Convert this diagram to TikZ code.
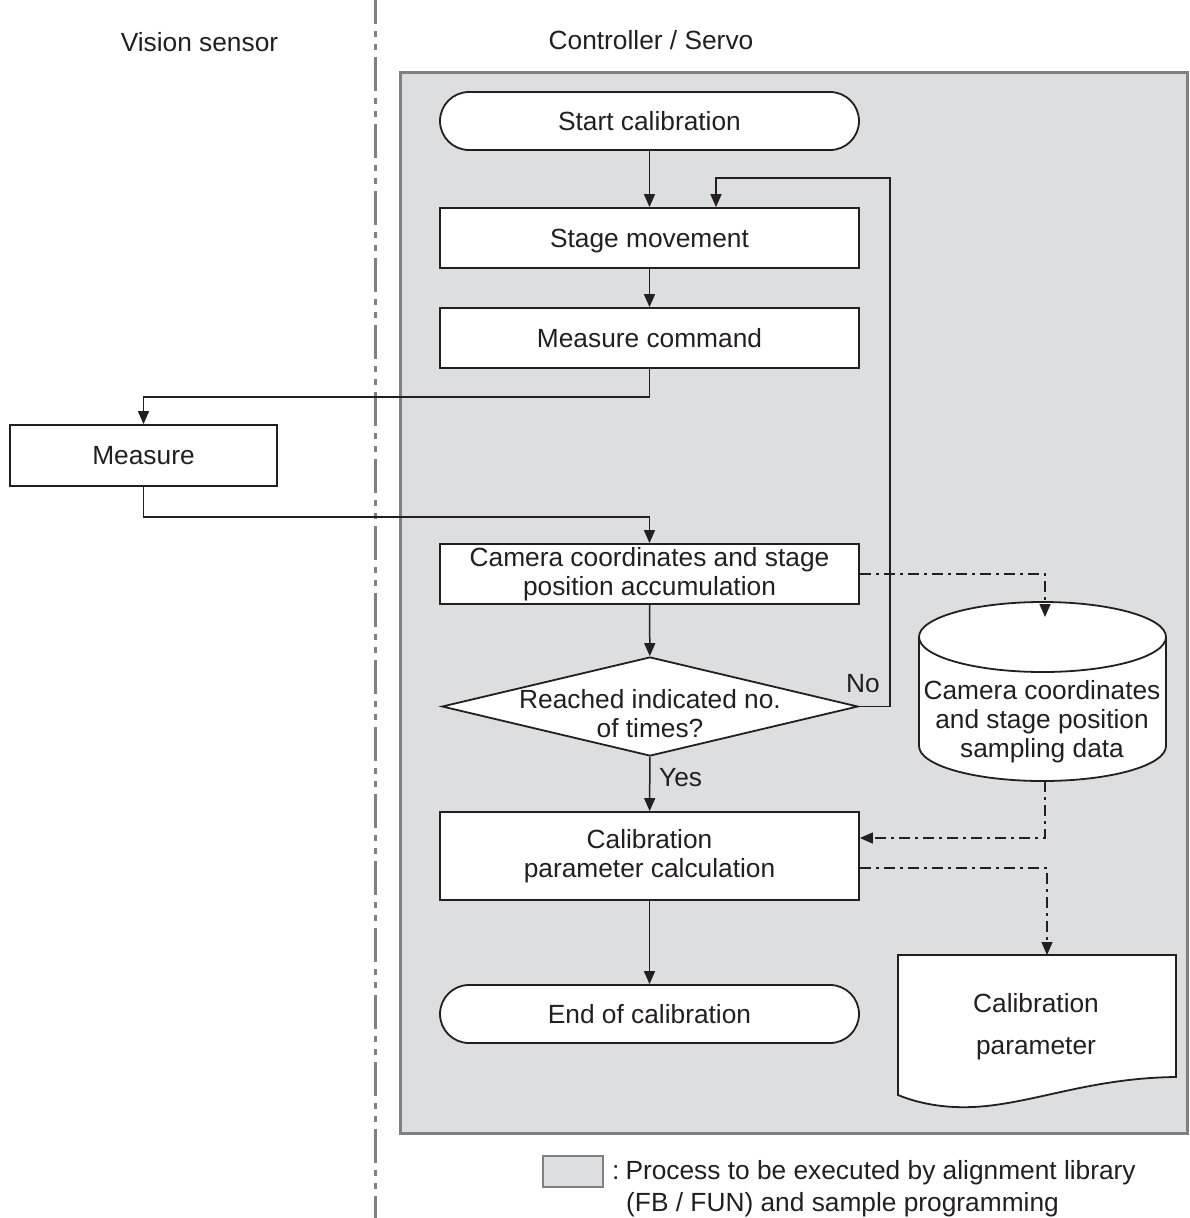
\documentclass[tikz,border=0pt]{standalone}
\usepackage{fontspec}
\setmainfont{Liberation Sans}
\usetikzlibrary{arrows.meta,shapes.geometric}
\definecolor{txt}{RGB}{35,31,32}
\definecolor{areafill}{RGB}{221,222,224}
\definecolor{areaedge}{RGB}{128,128,130}
\newcommand{\nodepth}[1]{\raisebox{0pt}[\height][0pt]{#1}}
\begin{document}
\begin{tikzpicture}[x=1pt,y=-1pt,
  font=\fontsize{26.3}{29}\selectfont, text=txt,
  proc/.style={draw=txt, line width=1.8pt, fill=white, minimum width=419pt, minimum height=60pt, align=center, inner sep=0pt},
  term/.style={proc, rounded corners=29pt, minimum height=58pt},
  arr/.style={line width=1.5pt, draw=txt, -{Triangle[length=13pt,width=11pt]}},
  dd/.style={arr, dash pattern=on 11pt off 5pt on 3pt off 5pt},
  lbl/.style={inner sep=0pt, align=center}]
\useasboundingbox (0,0) rectangle (1190,1218);
% swimlane separator
\draw[areaedge, line width=3pt, dash pattern=on 34pt off 7pt on 6pt off 7pt on 6pt off 7pt, dash phase=10pt] (375,0) -- (375,1218);
% titles
\node[lbl] (vs) at (199.5,42) {Vision sensor};
\node[lbl] (cs) at (651,40) {Controller / Servo};
% gray area
\draw[fill=areafill, draw=areaedge, line width=3pt] (400,72) rectangle (1187,1133);
% nodes
\node[term] (start) at (649.5,121) {Start calibration};
\node[proc] (stage) at (649.5,238) {\nodepth{Stage movement}};
\node[proc] (meascmd) at (649.5,338) {Measure command};
\node[proc, minimum width=267pt, minimum height=61pt] (measure) at (143.5,455.5) {Measure};
\node[proc] (accum) at (649.5,574) {Camera coordinates and stage\\position accumulation};
\node[diamond, draw=txt, line width=1.8pt, fill=white, minimum width=416pt, minimum height=99pt, inner sep=0pt, aspect=4.2] (dec) at (650,706.5) {};
\node[lbl] (dectxt) at (650,714) {Reached indicated no.\\of times?};
\node[proc, minimum height=88pt] (calc) at (649.5,856) {Calibration\\parameter calculation};
\node[term] (endc) at (649.5,1014) {End of calibration};
% cylinder (sampling data)
\filldraw[fill=white, draw=txt, line width=1.8pt]
  (919,637) -- (919,746)
  .. controls (919,765.33) and (974.29,781) .. (1042.5,781)
  .. controls (1110.71,781) and (1166,765.33) .. (1166,746)
  -- (1166,637)
  .. controls (1166,617.67) and (1110.71,602) .. (1042.5,602)
  .. controls (974.29,602) and (919,617.67) .. (919,637) -- cycle;
\draw[txt, line width=1.8pt] (919,637)
  .. controls (919,656.33) and (974.29,672) .. (1042.5,672)
  .. controls (1110.71,672) and (1166,656.33) .. (1166,637);
\node[lbl] (cyl) at (1042,722) {Camera coordinates\\and stage position\\sampling data};
\coordinate (cylin) at (1045,617);
\coordinate (cylout) at (1045,781);
% document (calibration parameter)
\filldraw[fill=white, draw=txt, line width=1.8pt]
  (898,955) -- (1176,955) -- (1176,1077)
  .. controls (1080,1078) and (1020,1110) .. (955,1107)
  .. controls (930,1106) and (910,1100) .. (898,1095) -- cycle;
\node[lbl] (doc) at (1036,1027) {Calibration\\[13pt]parameter};
\coordinate (docin) at (1047,955);
% connectors
\draw[arr] (start) -- (stage);
\draw[arr] (stage) -- (meascmd);
\draw[arr] (meascmd.south) -- ++(0,28) -| (measure.north);
\draw[arr] (measure.south) -- ++(0,30) -| (accum.north);
\draw[arr] (accum) -- (dec);
\draw[arr] (dec) -- (calc);
\draw[arr] (calc) -- (endc);
\coordinate (looptop) at (716,178);
\draw[arr] (dec.east) -- (890,706.5) -- (890,178) -- (looptop) -- (looptop |- stage.north);
\node[lbl] (no) at (863,684) {No};
\node[lbl, anchor=west] (yes) at (659,778) {Yes};
% dash-dot data flows
\draw[dd] (accum.east) -| (cylin);
\draw[dd] (cylout) |- ([yshift=18pt]calc.east);
\draw[dd] ([yshift=-12pt]calc.east) -| (docin);
% legend
\node[draw=areaedge, fill=areafill, line width=2pt, minimum width=60pt, minimum height=31pt, inner sep=0pt] (leg) at (573,1171) {};
\node[inner sep=0pt, anchor=base west] (legt1) at (612,1179) {:\hspace{6pt}Process to be executed by alignment library};
\node[inner sep=0pt, anchor=base west] (legt2) at (626,1211) {(FB / FUN) and sample programming};
\end{tikzpicture}
\end{document}
